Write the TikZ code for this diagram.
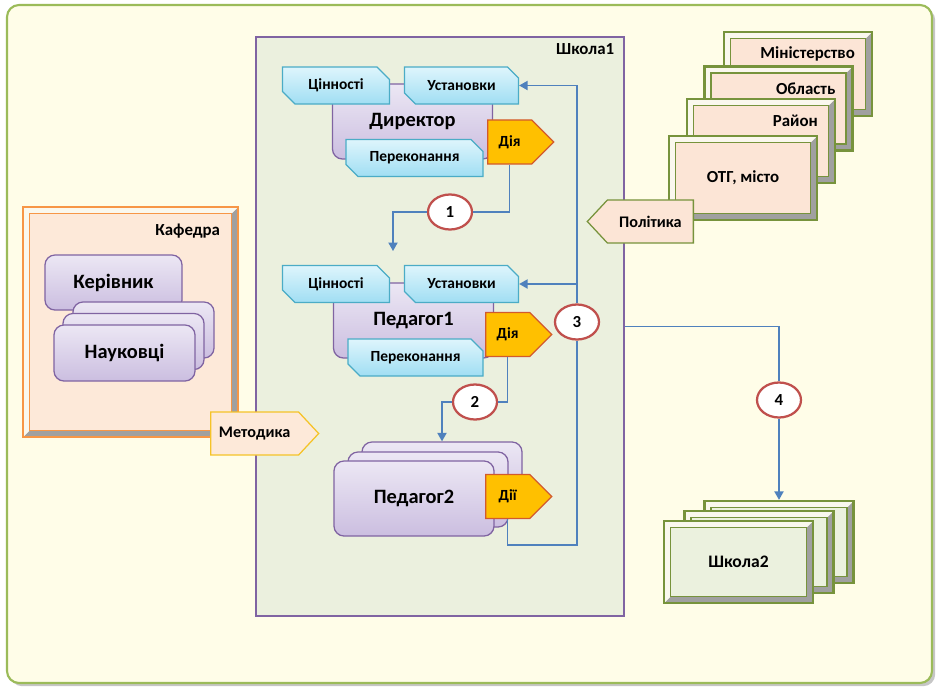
\documentclass[tikz,border=0pt]{standalone}
\usepackage{fontspec}
\setmainfont{Carlito}
\usepackage{tikz}
\usetikzlibrary{
  shapes.geometric, shapes.misc, shapes.symbols,
  arrows.meta, shadows
}
\definecolor{bgfill}{RGB}{255,253,232}
\definecolor{bgborder}{RGB}{155,187,89}
\definecolor{schfill}{RGB}{235,240,222}
\definecolor{schborder}{RGB}{128,100,162}
\definecolor{lavtop}{RGB}{236,231,244}
\definecolor{lavbot}{RGB}{203,190,224}
\definecolor{lavborder}{RGB}{128,100,162}
\definecolor{tagtop}{RGB}{222,245,252}
\definecolor{tagbot}{RGB}{160,222,243}
\definecolor{tagborder}{RGB}{75,172,198}
\definecolor{actfill}{RGB}{255,192,0}
\definecolor{actborder}{RGB}{210,90,45}
\definecolor{pinkfill}{RGB}{252,229,214}
\definecolor{govborder}{RGB}{119,147,60}
\definecolor{kafborder}{RGB}{247,150,70}
\definecolor{kaffill}{RGB}{253,233,217}
\definecolor{metborder}{RGB}{245,195,40}
\definecolor{s2fill}{RGB}{235,241,222}
\definecolor{circborder}{RGB}{192,80,77}
\definecolor{lineblue}{RGB}{79,129,189}
\definecolor{bevdark}{RGB}{160,160,160}
\definecolor{bevlight}{RGB}{250,248,238}
\tikzset{
  basebox/.style={rectangle,align=center,font=\bfseries\fontsize{11}{13}\selectfont},
  persbox/.style={basebox,rounded corners=0.25cm,draw=lavborder,line width=0.9pt,top color=lavtop,bottom color=lavbot,minimum width=4cm,minimum height=1.875cm,font=\bfseries\fontsize{14.5}{17}\selectfont},
  tagbox/.style={basebox,chamfered rectangle,chamfered rectangle corners={north east,south west},chamfered rectangle xsep=0.33cm,draw=tagborder,line width=0.9pt,top color=tagtop,bottom color=tagbot,minimum height=0.925cm,inner sep=1pt},
  actbox/.style={basebox,signal,signal to=east,signal pointer angle=90,draw=actborder,fill=actfill,line width=0.9pt,minimum width=1.65cm,minimum height=1.1cm,anchor=west},
  signbox/.style={basebox,signal,signal pointer angle=94,fill=pinkfill,line width=0.9pt,minimum height=1.075cm,font=\bfseries\fontsize{11.5}{13}\selectfont},
  bevelbox/.style={basebox,draw=#1,line width=1.6pt,font=\bfseries\fontsize{12}{14}\selectfont,
    path picture={
      \fill[bevdark] (path picture bounding box.north east) -- (path picture bounding box.south east)
        -- (path picture bounding box.south west) -- ([shift={(0.16cm,0.16cm)}]path picture bounding box.south west)
        -- ([shift={(-0.16cm,0.16cm)}]path picture bounding box.south east) -- ([shift={(-0.16cm,-0.16cm)}]path picture bounding box.north east) -- cycle;
      \fill[bevlight] (path picture bounding box.north east) -- (path picture bounding box.north west)
        -- (path picture bounding box.south west) -- ([shift={(0.16cm,0.16cm)}]path picture bounding box.south west)
        -- ([shift={(0.16cm,-0.16cm)}]path picture bounding box.north west) -- ([shift={(-0.16cm,-0.16cm)}]path picture bounding box.north east) -- cycle;
      \draw[#1,line width=1.1pt] ([shift={(0.16cm,0.16cm)}]path picture bounding box.south west) rectangle ([shift={(-0.16cm,-0.16cm)}]path picture bounding box.north east);
    }},
  govbox/.style={bevelbox=govborder,fill=pinkfill,minimum width=3.7cm,minimum height=2.1cm},
  s2box/.style={bevelbox=govborder,fill=s2fill,minimum width=3.725cm,minimum height=2.05cm,font=\bfseries\fontsize{12.5}{14}\selectfont},
  govlbl/.style={anchor=east,inner sep=0pt,xshift=-0.45cm,yshift=-0.575cm,font=\bfseries\fontsize{12}{14}\selectfont},
  framelbl/.style={anchor=north east,inner sep=0pt,xshift=-0.27cm,yshift=-0.18cm,font=\bfseries\fontsize{12}{14}\selectfont},
  schframe/.style={rectangle,draw=schborder,line width=1.8pt,fill=schfill},
  circ/.style={ellipse,draw=circborder,line width=1.6pt,fill=white,minimum width=1.1cm,minimum height=0.875cm,inner sep=0pt,font=\bfseries\fontsize{12}{14}\selectfont},
  conn/.style={draw=lineblue,line width=1pt},
  arr/.style={conn,-{Triangle[width=6.5pt,length=6pt]}}
}

\begin{document}
\begin{tikzpicture}[x=0.025cm,y=-0.025cm]
  \useasboundingbox (0,0) rectangle (940,691);
  % background
  \draw[bgborder,line width=1.5pt,fill=bgfill,rounded corners=0.3cm,
    drop shadow={shadow xshift=0.08cm,shadow yshift=-0.08cm,opacity=0.45}] (7,5) rectangle (932,683);

  % school 1
  \node[schframe,minimum width=9.2cm,minimum height=14.475cm,
    label={[framelbl]north east:Школа1}] (sch1) at (440,326.5) {};

  % department
  \node[bevelbox=kafborder,fill=kaffill,minimum width=5.375cm,minimum height=5.75cm,
    label={[framelbl,xshift=-0.2cm,yshift=-0.27cm]north east:Кафедра}] (kaf) at (130.5,322) {};
  \node[persbox,minimum width=3.425cm,minimum height=1.375cm] (ker) at (113.5,282.5) {Керівник};
  \node[persbox,minimum width=3.525cm,minimum height=1.4cm] (nauc) at (143.5,330) {};
  \node[persbox,minimum width=3.525cm,minimum height=1.4cm] (naub) at (133.5,341.5) {};
  \node[persbox,minimum width=3.525cm,minimum height=1.4cm] (nau) at (124.5,353) {Науковці};
  \node[signbox,signal to=east,draw=metborder,fill=kaffill,minimum width=2.7cm,anchor=west] (met) at (210,433.5) {Методика};

  % director
  \node[persbox] (dir) at (412.5,121.5) {Директор};
  \node[tagbox,minimum width=2.675cm] (cin1) at (336,85.5) {Цінності};
  \node[tagbox,minimum width=2.85cm] (ust1) at (461.5,85.5) {Установки};
  \node[tagbox,minimum width=3.425cm] (per1) at (414.5,158) {Переконання};
  \node[actbox] (dia1) at (487,142) {Дія};

  % teacher 1
  \node[persbox] (ped1) at (413.5,320.5) {Педагог1};
  \node[tagbox,minimum width=2.675cm] (cin2) at (336,284) {Цінності};
  \node[tagbox,minimum width=2.85cm] (ust2) at (461.5,284) {Установки};
  \node[tagbox,minimum width=3.375cm] (per2) at (415.5,357.5) {Переконання};
  \node[actbox] (dia2) at (485,334.5) {Дія};

  % teacher 2
  \node[persbox] (p2c) at (442,479.5) {};
  \node[persbox] (p2b) at (428,489.5) {};
  \node[persbox] (p2) at (414,498.5) {Педагог2};
  \node[actbox] (dii) at (485,496.5) {Дії};

  % authorities
  \node[govbox,label={[govlbl]north east:Міністерство}] (mins) at (798,74) {};
  \node[govbox,label={[govlbl]north east:Область}] (obl) at (778.5,108.5) {};
  \node[govbox,label={[govlbl]north east:Район}] (ray) at (761,141) {};
  \node[govbox] (otg) at (743,178) {ОТГ, місто};
  \node[signbox,signal to=west,draw=govborder,minimum width=2.65cm,anchor=east] (pol) at (694,221.5) {Політика};

  % school 2
  \node[s2box] (s2c) at (779,542) {};
  \node[s2box] (s2b) at (759,552) {};
  \node[s2box] (s2) at (738.5,562) {Школа2};

  % links
  \node[circ] (c1) at (450,212) {1};
  \node[circ] (c2) at (475,402) {2};
  \node[circ] (c3) at (577,322) {3};
  \node[circ] (c4) at (779,400) {4};
  \coordinate (t1) at (393,251);
  \coordinate (fb) at (577,545);

  \draw[conn] (dia1.south) |- (c1.east);
  \draw[arr] (c1.west) -| (t1);
  \draw[conn] (dia2.south) |- (c2.east);
  \draw[arr] (c2.west) -| (p2c.north);
  \draw[conn] (dii.south) |- (fb) -- (c3.south);
  \draw[arr] (c3.north) |- (ust1.east);
  \draw[arr] (c3.north |- ust2.east) -- (ust2.east);
  \draw[conn] (sch1.east) -| (c4.north);
  \draw[arr] (c4.south) -- (s2c.north);
\end{tikzpicture}
\end{document}
